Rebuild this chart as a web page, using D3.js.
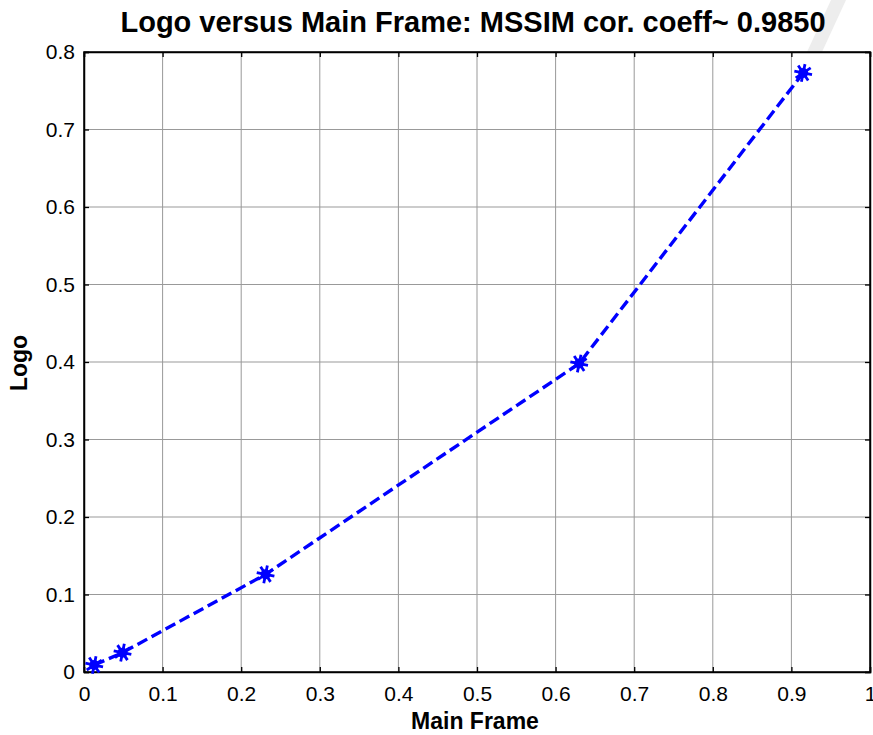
<!DOCTYPE html>
<html><head><meta charset="utf-8">
<script src="https://cdn.jsdelivr.net/npm/d3@7"></script>
<style>body{margin:0;background:#fff}svg{display:block}text{font-family:"Liberation Sans",Arial,sans-serif}</style>
</head><body><svg id="c" width="873" height="735"></svg>
<script>
const xValues = [0.013, 0.049, 0.231, 0.630, 0.915];
const yValues = [0.009, 0.025, 0.126, 0.398, 0.773];
const xTicks = [0, 0.1, 0.2, 0.3, 0.4, 0.5, 0.6, 0.7, 0.8, 0.9, 1];
const yTicks = [0, 0.1, 0.2, 0.3, 0.4, 0.5, 0.6, 0.7, 0.8];
const titleText = "Logo versus Main Frame: MSSIM cor. coeff~ 0.9850";
const xLabel = "Main Frame", yLabel = "Logo";

const svg = d3.select("#c");
const L = 84, R = 870, T = 52, B = 672;
const x = d3.scaleLinear().domain([0, 1]).range([L, R]);
const y = d3.scaleLinear().domain([0, 0.8]).range([B, T]);

// watermark
svg.append("path").attr("d", "M831,0 L846,0 L822,52 L807,52 Z").attr("fill", "#ededed");

// grid
svg.append("g").selectAll("line").data(xTicks.slice(1, -1)).join("line")
  .attr("x1", d => x(d)).attr("x2", d => x(d)).attr("y1", T).attr("y2", B)
  .attr("stroke", "#999").attr("stroke-width", 1);
svg.append("g").selectAll("line").data(yTicks.slice(1, -1)).join("line")
  .attr("y1", d => y(d)).attr("y2", d => y(d)).attr("x1", L).attr("x2", R)
  .attr("stroke", "#999").attr("stroke-width", 1);

// axes with inner ticks
const ax = svg.append("g").attr("transform", `translate(0,${B})`)
  .call(d3.axisBottom(x).tickValues(xTicks).tickSize(-5).tickPadding(14).tickFormat(d => d3.format("")(d)));
const axT = svg.append("g").attr("transform", `translate(0,${T})`)
  .call(d3.axisTop(x).tickValues(xTicks).tickSize(-5).tickFormat(""));
const ay = svg.append("g").attr("transform", `translate(${L},0)`)
  .call(d3.axisLeft(y).tickValues(yTicks).tickSize(-5).tickPadding(9).tickFormat(d => d3.format("")(d)));
const ayR = svg.append("g").attr("transform", `translate(${R},0)`)
  .call(d3.axisRight(y).tickValues(yTicks).tickSize(-5).tickFormat(""));
[ax, axT, ay, ayR].forEach(g => {
  g.attr("font-size", null).attr("font-family", null);
  g.select(".domain").attr("stroke", "#000").attr("stroke-width", 1.5);
  g.selectAll(".tick line").attr("stroke", "#000").attr("stroke-width", 1.3);
  g.selectAll("text").attr("fill", "#000").style("font-size", "21px").style("font-family", '"Liberation Sans",Arial,sans-serif');
});
svg.append("rect").attr("x", L).attr("y", T).attr("width", R - L).attr("height", B - T)
  .attr("fill", "none").attr("stroke", "#000").attr("stroke-width", 1.5);

// line
const pts = xValues.map((v, i) => [v, yValues[i]]);
svg.append("path").datum(pts)
  .attr("d", d3.line().x(d => x(d[0])).y(d => y(d[1])))
  .attr("fill", "none").attr("stroke", "#0000ff").attr("stroke-width", 3.4)
  .attr("stroke-dasharray", "11,5");

// asterisk markers
const m = svg.append("g");
pts.forEach(d => {
  const cx = x(d[0]), cy = y(d[1]);
  for (let k = 0; k < 8; k++) {
    const a = k * Math.PI / 4 + 0.2;
    m.append("line").attr("x1", cx).attr("y1", cy)
      .attr("x2", cx + 9 * Math.cos(a)).attr("y2", cy + 9 * Math.sin(a))
      .attr("stroke", "#0000ff").attr("stroke-width", 2.8);
  }
  m.append("circle").attr("cx", cx).attr("cy", cy).attr("r", 5).attr("fill", "#0000ff");
});

// labels
svg.append("text").attr("x", 473).attr("y", 32).attr("text-anchor", "middle")
  .style("font-size", "29px").attr("font-weight", "bold").text(titleText);
svg.append("text").attr("x", 475).attr("y", 729).attr("text-anchor", "middle")
  .style("font-size", "23px").attr("font-weight", "bold").text(xLabel);
svg.append("text").attr("transform", "translate(27,363) rotate(-90)").attr("text-anchor", "middle")
  .style("font-size", "23px").attr("font-weight", "bold").text(yLabel);
</script></body></html>
